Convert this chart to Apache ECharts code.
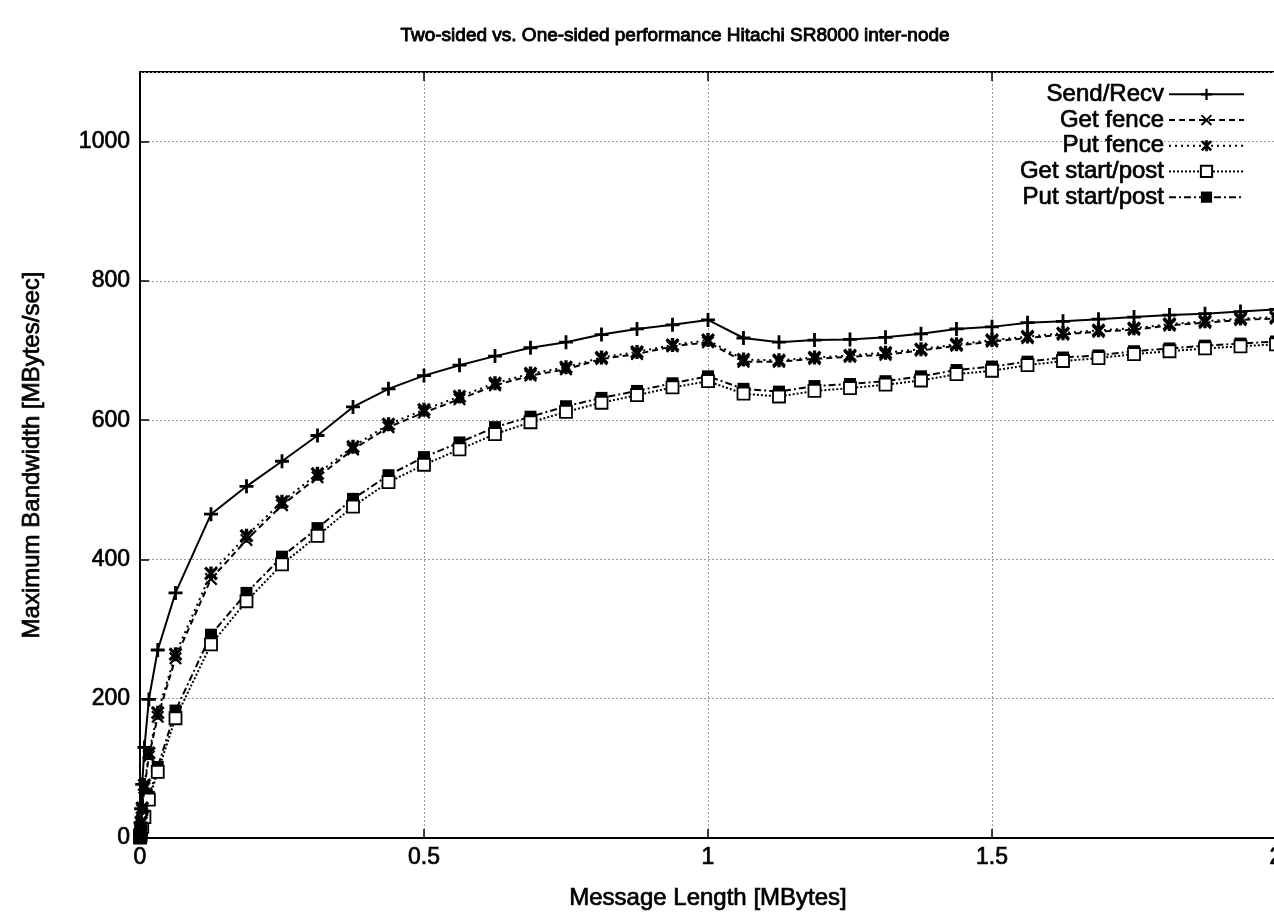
<!DOCTYPE html>
<html>
<head>
<meta charset="utf-8">
<title>Two-sided vs. One-sided performance Hitachi SR8000 inter-node</title>
<script src="https://cdn.jsdelivr.net/npm/echarts@6/dist/echarts.min.js"></script>
<style>
  html, body { margin: 0; padding: 0; background: #fff; }
  #chart { width: 1274px; height: 916px; }
</style>
</head>
<body>
<div id="chart"></div>
<script>
// Message lengths in MBytes: powers of two up to 32 KB, then 64 KB steps up to 2 MB
const msgLen = [
  0.000122, 0.000488, 0.000977, 0.00195, 0.0039, 0.0078, 0.0156, 0.03125,
  0.0625, 0.125, 0.1875, 0.25, 0.3125, 0.375, 0.4375, 0.5,
  0.5625, 0.625, 0.6875, 0.75, 0.8125, 0.875, 0.9375, 1.0,
  1.0625, 1.125, 1.1875, 1.25, 1.3125, 1.375, 1.4375, 1.5,
  1.5625, 1.625, 1.6875, 1.75, 1.8125, 1.875, 1.9375, 2.0
];

// Maximum bandwidth in MBytes/sec for each message length
const sendRecv = [
  3, 11, 22, 42, 77, 130, 199, 270,
  352, 465, 505, 541, 578, 619, 645, 664,
  679, 692, 704, 712, 723, 731, 737, 744,
  718, 712, 715, 716, 719, 724, 731, 734,
  740, 742, 745, 748, 751, 753, 756, 759
];
const getFence = [
  1.4, 5.6, 11, 21, 40, 72, 117, 174,
  258, 372, 428, 478, 518, 558, 590, 611,
  630, 650, 664, 673, 688, 695, 706, 712,
  684, 684, 688, 691, 694, 700, 707, 713,
  718, 723, 727, 730, 736, 740, 744, 746
];
const putFence = [
  1.5, 6, 12, 23, 43, 76, 122, 180,
  264, 380, 434, 483, 523, 562, 594, 615,
  634, 653, 667, 676, 690, 698, 708, 715,
  687, 686, 690, 693, 697, 702, 709, 715,
  720, 725, 729, 732, 738, 742, 746, 748
];
const getStartPost = [
  0.5, 2, 4, 8, 16, 30, 55, 95,
  172, 278, 340, 393, 434, 476, 511, 536,
  558, 580, 597, 612, 625, 636, 647, 656,
  638, 634, 642, 646, 651, 657, 666, 671,
  679, 685, 689, 695, 699, 703, 706, 709
];
const putStartPost = [
  0.5, 2.2, 4.3, 8.6, 17, 32, 59, 102,
  183, 292, 352, 404, 445, 487, 521, 547,
  568, 590, 605, 620, 632, 642, 653, 663,
  645, 641, 649, 652, 656, 663, 672, 677,
  684, 690, 693, 699, 703, 707, 710, 713
];

const seriesNames = ['Send/Recv', 'Get fence', 'Put fence', 'Get start/post', 'Put start/post'];
const seriesValues = [sendRecv, getFence, putFence, getStartPost, putStartPost];

// Point glyphs: plus, cross, star, open square, filled square
const PLUS = 'path://M4,0h2v4h4v2h-4v4h-2v-4h-4v-2h4z';
const CROSS = 'path://M0,1.2L1.2,0L5,3.8L8.8,0L10,1.2L6.2,5L10,8.8L8.8,10L5,6.2L1.2,10L0,8.8L3.8,5Z';
const STAR = 'path://M0,1.6L1.6,0L5,3.4L8.4,0L10,1.6L6.6,5L10,8.4L8.4,10L5,6.6L1.6,10L0,8.4L3.4,5Z' +
             'M3.8,0h2.4v10h-2.4z';

const styles = [
  { symbol: PLUS, size: 14, color: '#000', border: null, dash: 'solid' },
  { symbol: CROSS, size: 13, color: '#000', border: null, dash: [6, 4] },
  { symbol: STAR, size: 14, color: '#000', border: null, dash: [2, 4] },
  { symbol: 'rect', size: 12, color: '#fff', border: '#000', dash: [2, 2] },
  { symbol: 'rect', size: 12, color: '#000', border: null, dash: [7, 3, 2, 3] }
];

const FONT = '"Liberation Sans", Arial, Helvetica, sans-serif';
// slightly heavier glyph strokes for all text
const INK = { textBorderColor: '#000', textBorderWidth: 0.7 };
const TITLE_INK = { textBorderColor: '#000', textBorderWidth: 0.9 };

const series = seriesNames.map(function (name, i) {
  const st = styles[i];
  return {
    name: name,
    type: 'line',
    data: msgLen.map(function (x, k) { return [x, seriesValues[i][k]]; }),
    symbol: st.symbol,
    symbolSize: st.size,
    showAllSymbol: true,
    z: 10 - i,
    lineStyle: { color: '#000', width: 2, type: st.dash },
    itemStyle: st.border
      ? { color: st.color, borderColor: st.border, borderWidth: 1.8 }
      : { color: st.color, borderWidth: 0 },
    emphasis: { disabled: true },
    animation: false
  };
});

const chart = echarts.init(document.getElementById('chart'), null, { renderer: 'canvas' });

chart.setOption({
  backgroundColor: '#fff',
  animation: false,
  textStyle: { fontFamily: FONT, color: '#000' },
  title: {
    text: 'Two-sided vs. One-sided performance Hitachi SR8000 inter-node',
    left: 670,
    top: 21,
    textAlign: 'center',
    textStyle: Object.assign({ fontFamily: FONT, fontSize: 19, fontWeight: 'normal', color: '#000' }, TITLE_INK)
  },
  legend: {
    data: seriesNames,
    orient: 'vertical',
    align: 'right',
    right: 29,
    top: 82,
    padding: 0,
    itemGap: 1,
    itemWidth: 75,
    itemHeight: 14,
    selectedMode: false,
    textStyle: Object.assign({ fontFamily: FONT, fontSize: 24, color: '#000' }, INK)
  },
  grid: {
    left: 140,
    width: 1136,
    top: 72,
    bottom: 78,
    show: true,
    borderColor: '#000',
    borderWidth: 2,
    containLabel: false,
    outerBoundsMode: 'none'
  },
  xAxis: [
    {
      type: 'value',
      min: 0,
      max: 2,
      interval: 0.5,
      name: 'Message Length [MBytes]',
      nameLocation: 'middle',
      nameGap: 48,
      nameTextStyle: Object.assign({ fontFamily: FONT, fontSize: 24, color: '#000' }, INK),
      axisLine: { show: true, lineStyle: { color: '#000', width: 2 } },
      axisTick: { show: true, inside: true, length: 9, lineStyle: { color: '#000', width: 1.5 } },
      axisLabel: Object.assign({ fontFamily: FONT, fontSize: 23, color: '#000', margin: 8 }, INK),
      splitLine: { show: true, lineStyle: { color: '#999', width: 1, type: [2, 2] } }
    },
    {
      type: 'value',
      position: 'top',
      min: 0,
      max: 2,
      interval: 0.5,
      axisLine: { show: false },
      axisTick: { show: true, inside: true, length: 9, lineStyle: { color: '#000', width: 1.5 } },
      axisLabel: { show: false },
      splitLine: { show: false }
    }
  ],
  yAxis: {
    type: 'value',
    min: 0,
    max: 1100,
    interval: 200,
    name: 'Maximum Bandwidth [MBytes/sec]',
    nameLocation: 'middle',
    nameGap: 96,
    nameTextStyle: Object.assign({ fontFamily: FONT, fontSize: 24, color: '#000' }, INK),
    axisLine: { show: true, lineStyle: { color: '#000', width: 2 } },
    axisTick: { show: true, inside: true, length: 9, lineStyle: { color: '#000', width: 1.5 } },
    axisLabel: Object.assign({
      fontFamily: FONT, fontSize: 23, color: '#000', margin: 10, showMaxLabel: false,
      formatter: function (v) { return String(v); }
    }, INK),
    splitLine: { show: true, lineStyle: { color: '#999', width: 1, type: [2, 2] } }
  },
  series: series
});
</script>
</body>
</html>
